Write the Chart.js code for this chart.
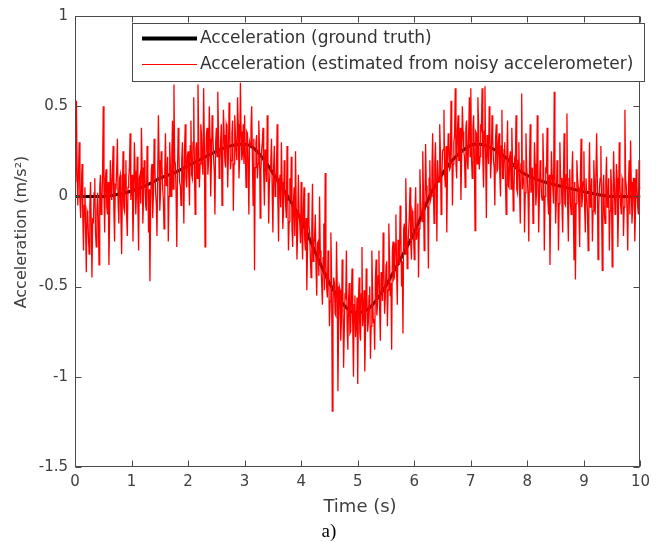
<!DOCTYPE html>
<html>
<head>
<meta charset="utf-8">
<script src="https://cdn.jsdelivr.net/npm/chart.js@4.4.0/dist/chart.umd.min.js"></script>
<style>
  html, body { margin: 0; padding: 0; background: #fff; }
  #wrap { width: 656px; height: 542px; }
</style>
</head>
<body>
<div id="wrap"><canvas id="accChart" width="656" height="542"></canvas></div>
<script>
// axis ticks
const timeTicks = [0, 1, 2, 3, 4, 5, 6, 7, 8, 9, 10];
const accelTicks = [-1.5, -1, -0.5, 0, 0.5, 1];

// ground truth (smooth curve)
const truthTime = [0, 0.5, 0.75, 1, 1.25, 1.5, 1.75, 2, 2.25, 2.5, 2.75, 2.95, 3.15, 3.35, 3.6, 3.8, 4.0, 4.25, 4.5, 4.75, 4.95, 5.2, 5.45, 5.7, 6.0, 6.3, 6.55, 6.8, 7.1, 7.35, 7.6, 7.87, 8.2, 8.68, 9.1, 9.5, 10];
const truthAccel = [0, 0, 0.01, 0.03, 0.06, 0.10, 0.13, 0.17, 0.21, 0.25, 0.28, 0.29, 0.27, 0.20, 0.08, -0.02, -0.13, -0.31, -0.48, -0.60, -0.645, -0.62, -0.52, -0.38, -0.20, 0.02, 0.15, 0.24, 0.29, 0.27, 0.22, 0.14, 0.09, 0.05, 0.02, 0.00, 0];

// estimated from noisy accelerometer, one array per second, 0.0125 s apart
const sampleStep = 0.0125;
const est0 = [0.22, 0.08, 0.53, 0.12, -0.05, 0.15, 0.30, -0.02, -0.12, 0.05, 0.18, -0.10, -0.30, -0.05, 0.05, -0.18, -0.42, -0.08, -0.10, -0.22, -0.32, -0.05, 0.08, -0.15, -0.45, -0.12, -0.15, 0.02, 0.10, -0.20, -0.28, -0.08, 0.02, -0.12, -0.38, 0.05, 0.12, -0.10, -0.05, 0.12, 0.50, 0.02, -0.20, 0.10, 0.15, -0.06, -0.10, 0.08, -0.38, -0.12, 0.20, 0.04, -0.02, 0.14, 0.28, -0.08, -0.25, 0.06, 0.05, 0.15, 0.32, -0.04, -0.15, 0.10, 0.12, -0.12, -0.32, 0.02, 0.25, -0.06, -0.08, 0.12, 0.20, -0.10, -0.22, 0.05, 0.10, 0.16, 0.35, -0.02];
const est1 = [0.05, 0.12, -0.25, -0.02, 0.30, 0.14, -0.10, 0.02, 0.22, -0.06, -0.30, 0.10, 0.12, -0.04, 0.38, 0.16, -0.15, 0.00, 0.20, 0.12, -0.05, -0.08, 0.28, 0.14, -0.20, 0.04, -0.47, -0.06, 0.15, 0.18, -0.12, 0.02, 0.32, 0.16, 0.02, -0.04, -0.22, 0.12, 0.45, 0.20, -0.08, 0.02, 0.25, 0.18, 0.05, -0.02, -0.18, 0.14, 0.35, 0.06, 0.10, 0.22, -0.25, 0.00, 0.30, 0.16, 0.00, 0.24, 0.42, 0.04, 0.62, 0.20, 0.18, 0.02, -0.28, 0.12, 0.38, 0.24, 0.08, 0.06, -0.05, 0.20, 0.30, 0.08, -0.15, 0.26, 0.40, 0.10, 0.05, 0.22];
const est2 = [0.25, 0.10, -0.05, 0.28, 0.42, 0.12, 0.10, 0.30, 0.55, 0.14, -0.10, 0.26, 0.30, 0.10, 0.62, 0.32, 0.05, 0.18, 0.40, 0.34, 0.18, 0.12, 0.60, 0.30, -0.28, 0.16, 0.35, 0.38, 0.12, 0.20, 0.50, 0.32, 0.00, 0.18, 0.45, 0.36, 0.22, 0.14, -0.10, 0.30, 0.38, 0.22, 0.58, 0.36, 0.10, 0.20, 0.30, 0.40, -0.05, 0.18, 0.48, 0.34, 0.20, 0.16, 0.40, 0.38, 0.05, 0.22, 0.52, 0.36, 0.15, 0.20, 0.35, 0.42, -0.08, 0.18, 0.45, 0.34, 0.25, 0.20, 0.55, 0.40, 0.10, 0.22, 0.63, 0.36, 0.20, 0.24, 0.40, 0.18];
const est3 = [0.45, 0.22, 0.05, 0.36, 0.35, 0.18, -0.10, 0.30, 0.28, 0.38, 0.50, 0.20, -0.05, 0.32, -0.41, 0.16, 0.30, 0.34, 0.10, 0.18, 0.42, 0.28, -0.12, 0.14, 0.25, 0.30, 0.38, 0.12, -0.05, 0.26, 0.20, 0.08, 0.45, 0.22, -0.15, 0.06, 0.15, 0.20, 0.32, 0.02, -0.20, 0.16, 0.28, 0.00, 0.05, 0.14, 0.40, -0.02, -0.25, 0.10, 0.12, -0.06, 0.30, 0.08, -0.18, -0.08, 0.20, 0.04, -0.05, -0.12, 0.28, 0.02, -0.30, -0.14, 0.10, -0.02, 0.22, -0.18, -0.28, -0.04, 0.05, -0.22, 0.25, -0.08, -0.35, -0.20, 0.12, -0.10, -0.15, -0.26];
const est4 = [0.08, -0.20, -0.35, -0.08, 0.05, -0.24, -0.30, -0.12, -0.52, -0.28, 0.02, -0.16, -0.20, -0.34, -0.45, -0.18, 0.07, -0.36, -0.28, -0.22, -0.10, -0.40, -0.55, -0.26, -0.25, -0.44, 0.00, -0.30, -0.40, -0.48, -0.60, -0.34, -0.15, -0.52, 0.13, -0.38, -0.50, -0.56, -0.30, -0.42, -0.72, -0.58, -0.20, -0.44, -1.19, -0.62, -0.45, -0.48, -0.65, -0.66, -0.25, -0.50, -1.08, -0.70, -0.50, -0.52, -0.80, -0.68, -0.35, -0.54, -0.95, -0.74, -0.55, -0.56, -0.30, -0.72, -0.85, -0.58, -0.48, -0.76, -0.75, -0.56, -0.40, -0.74, -1.00, -0.60, -0.55, -0.78, -0.70, -0.56];
const est5 = [-1.04, -0.58, -0.45, -0.76, -0.80, -0.54, -0.28, -0.72, -0.65, -0.52, -0.97, -0.74, -0.40, -0.56, -0.75, -0.70, -0.55, -0.50, -0.90, -0.72, -0.30, -0.52, -0.70, -0.68, -0.85, -0.46, -0.35, -0.66, -0.60, -0.44, -0.30, -0.62, -0.80, -0.42, -0.45, -0.58, -0.20, -0.40, -0.65, -0.56, -0.38, -0.36, -0.72, -0.52, -0.15, -0.34, -0.55, -0.48, -0.85, -0.30, -0.25, -0.46, -0.45, -0.26, -0.10, -0.42, -0.60, -0.24, -0.30, -0.38, -0.05, -0.20, -0.50, -0.36, -0.76, -0.18, -0.15, -0.32, 0.10, -0.14, -0.40, -0.28, -0.20, -0.10, 0.05, -0.26, -0.35, -0.08, -0.10, -0.22];
const est6 = [-0.35, -0.08, 0.05, -0.24, -0.20, -0.04, -0.45, -0.18, 0.15, -0.02, -0.10, -0.14, 0.25, 0.02, -0.30, -0.10, 0.29, 0.06, -0.05, -0.06, -0.40, 0.10, 0.20, -0.02, 0.00, 0.14, 0.35, 0.04, -0.15, 0.18, 0.30, 0.06, -0.25, 0.20, 0.10, 0.08, 0.40, 0.24, -0.10, 0.10, 0.25, 0.26, 0.48, 0.12, 0.05, 0.28, -0.20, 0.14, 0.35, 0.30, 0.15, 0.16, 0.53, 0.32, -0.05, 0.18, 0.30, 0.34, 0.60, 0.18, 0.10, 0.36, 0.45, 0.20, 0.20, 0.38, -0.02, 0.20, 0.50, 0.36, 0.25, 0.22, 0.05, 0.38, 0.42, 0.20, 0.15, 0.36, 0.55, 0.22];
const est7 = [0.60, 0.20, 0.10, 0.38, 0.45, 0.22, -0.19, 0.36, 0.35, 0.18, 0.55, 0.40, 0.15, 0.22, 0.40, 0.38, 0.60, 0.20, 0.05, 0.36, 0.61, 0.22, -0.12, 0.34, 0.30, 0.18, 0.50, 0.36, 0.10, 0.20, 0.45, 0.32, 0.20, 0.16, -0.05, 0.32, 0.40, 0.14, 0.15, 0.30, 0.35, 0.12, 0.00, 0.28, 0.48, 0.10, 0.10, 0.26, 0.30, 0.08, -0.10, 0.24, 0.42, 0.06, 0.05, 0.22, 0.25, 0.04, 0.38, 0.20, -0.08, 0.02, 0.20, 0.18, 0.45, 0.04, 0.02, 0.20, 0.30, 0.02, -0.15, 0.18, 0.57, 0.04, 0.10, 0.20, -0.20, 0.02, 0.35, 0.16];
const est8 = [0.10, 0.00, -0.25, 0.18, 0.40, 0.02, 0.05, 0.16, -0.15, 0.00, 0.30, 0.18, -0.05, 0.02, 0.45, 0.16, -0.20, 0.00, 0.20, 0.14, 0.00, -0.02, 0.35, 0.16, -0.30, 0.00, 0.15, 0.14, 0.38, -0.02, -0.10, 0.12, -0.38, -0.04, 0.25, 0.12, 0.05, -0.04, 0.58, 0.12, -0.15, -0.02, 0.20, 0.12, -0.30, -0.04, 0.30, 0.10, 0.10, -0.06, -0.20, 0.10, 0.35, -0.04, -0.05, 0.12, 0.46, -0.06, -0.25, 0.10, 0.15, -0.04, -0.10, 0.12, 0.25, -0.06, -0.35, 0.08, -0.46, -0.04, 0.20, 0.10, 0.05, -0.08, -0.28, 0.10, 0.32, -0.06, 0.00, 0.08];
const est9 = [0.25, -0.06, -0.20, 0.10, 0.10, -0.08, -0.30, 0.08, 0.30, -0.06, 0.00, 0.10, -0.25, -0.08, 0.20, 0.06, -0.10, -0.10, 0.35, 0.08, -0.35, -0.06, 0.05, 0.10, 0.28, -0.08, -0.41, 0.06, 0.12, -0.10, -0.15, 0.08, 0.22, -0.06, -0.05, 0.10, -0.30, -0.08, 0.15, 0.06, -0.39, -0.10, 0.25, 0.08, -0.10, -0.06, 0.18, 0.10, -0.28, -0.08, 0.30, 0.06, -0.05, -0.10, 0.10, 0.08, -0.22, -0.06, 0.48, 0.10, 0.05, -0.08, -0.30, 0.06, 0.20, -0.10, 0.31, 0.08, -0.15, -0.06, 0.10, 0.10, -0.25, -0.08, 0.15, 0.06, -0.05, -0.10, 0.20, 0.04, 0.05];

// 组合数据点
const truthPoints = truthTime.map((t, i) => ({ x: t, y: truthAccel[i] }));
const estPoints = [];
[est0, est1, est2, est3, est4, est5, est6, est7, est8, est9].forEach((arr, s) => {
    arr.forEach((v, j) => estPoints.push({ x: s + j * sampleStep, y: v }));
});

const tickColor = '#404040';
const boxColor = '#4a4a4a';

// 画坐标框、内向刻度、图例和轴标题
const matlabFrame = {
    id: 'matlabFrame',
    afterDraw(chart) {
        const ctx = chart.ctx;
        const area = chart.chartArea;
        const xs = chart.scales.x;
        const ys = chart.scales.y;
        const L = Math.round(area.left) + 0.5;
        const R = Math.round(area.right) - 0.5;
        const T = Math.round(area.top) + 0.5;
        const B = Math.round(area.bottom) - 0.5;
        const tl = 6;

        ctx.save();
        ctx.strokeStyle = boxColor;
        ctx.lineWidth = 1;
        ctx.strokeRect(L, T, R - L, B - T);

        ctx.beginPath();
        timeTicks.forEach(v => {
            const px = Math.round(xs.getPixelForValue(v)) + 0.5;
            ctx.moveTo(px, B); ctx.lineTo(px, B - tl);
            ctx.moveTo(px, T); ctx.lineTo(px, T + tl);
        });
        accelTicks.forEach(v => {
            const py = Math.round(ys.getPixelForValue(v)) + 0.5;
            ctx.moveTo(L, py); ctx.lineTo(L + tl, py);
            ctx.moveTo(R, py); ctx.lineTo(R - tl, py);
        });
        ctx.stroke();

        // 图例
        const lx = 132.5, ly = 23.5, lw = 512, lh = 58;
        ctx.fillStyle = '#fff';
        ctx.fillRect(lx, ly, lw, lh);
        ctx.strokeStyle = boxColor;
        ctx.strokeRect(lx, ly, lw, lh);
        const rows = [38, 64];
        chart.data.datasets.forEach((ds, i) => {
            ctx.beginPath();
            ctx.strokeStyle = ds.borderColor;
            ctx.lineWidth = i === 0 ? 4 : 1;
            ctx.moveTo(142, rows[i] + 0.5);
            ctx.lineTo(197, rows[i] + 0.5);
            ctx.stroke();
            ctx.fillStyle = '#333';
            ctx.font = '17px "DejaVu Sans"';
            ctx.textAlign = 'left';
            ctx.textBaseline = 'middle';
            ctx.fillText(ds.label, 200, rows[i] + 1);
        });

        // 轴标题
        ctx.fillStyle = '#404040';
        ctx.font = '18px "DejaVu Sans"';
        ctx.textAlign = 'center';
        ctx.textBaseline = 'middle';
        ctx.fillText('Time (s)', 360, 507);

        ctx.save();
        ctx.translate(22, 232);
        ctx.rotate(-Math.PI / 2);
        ctx.font = '16px "DejaVu Sans"';
        ctx.fillText('Acceleration (m/s²)', 0, 0);
        ctx.restore();

        ctx.fillStyle = '#000';
        ctx.font = '19px "Liberation Serif"';
        ctx.fillText('a)', 329, 532);
        ctx.restore();
    }
};

const ctx = document.getElementById('accChart').getContext('2d');
const accChart = new Chart(ctx, {
    type: 'line',
    data: {
        datasets: [{
            label: 'Acceleration (ground truth)',
            data: truthPoints,
            borderColor: '#000000',
            borderWidth: 3,
            pointRadius: 0,
            cubicInterpolationMode: 'monotone',
            order: 2
        }, {
            label: 'Acceleration (estimated from noisy accelerometer)',
            data: estPoints,
            borderColor: '#ff0000',
            borderWidth: 1.3,
            pointRadius: 0,
            tension: 0,
            order: 1
        }]
    },
    options: {
        responsive: false,
        animation: false,
        devicePixelRatio: 1,
        layout: { padding: { top: 14, right: 7, left: 0, bottom: 0 } },
        plugins: {
            legend: { display: false },
            title: { display: false },
            tooltip: { enabled: false }
        },
        scales: {
            x: {
                type: 'linear',
                min: 0,
                max: 10,
                afterBuildTicks: s => { s.ticks = timeTicks.map(v => ({ value: v })); },
                afterFit: s => { s.height = 75; },
                grid: { display: false, drawTicks: false },
                border: { display: false },
                ticks: {
                    color: tickColor,
                    padding: 6,
                    maxRotation: 0,
                    font: { family: 'DejaVu Sans', size: 15 },
                    callback: v => String(v)
                }
            },
            y: {
                type: 'linear',
                min: -1.5,
                max: 1,
                afterBuildTicks: s => { s.ticks = accelTicks.map(v => ({ value: v })); },
                afterFit: s => { s.width = 75; },
                grid: { display: false, drawTicks: false },
                border: { display: false },
                ticks: {
                    color: tickColor,
                    padding: 7,
                    font: { family: 'DejaVu Sans', size: 15 },
                    callback: v => String(v)
                }
            }
        }
    },
    plugins: [matlabFrame]
});
</script>
</body>
</html>
